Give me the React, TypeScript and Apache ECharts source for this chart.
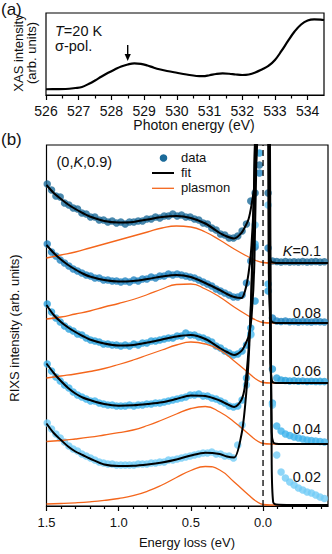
import React, { useEffect, useRef } from 'react';
import * as echarts from 'echarts';

// ---------- Panel (a): XAS ----------
const xasEnergy = [526.0, 526.3, 526.6, 526.9, 527.1, 527.3, 527.5, 527.7, 527.9, 528.1, 528.3, 528.5, 528.7, 528.9, 529.1, 529.3, 529.5, 529.7, 530.0, 530.3, 530.6, 530.8, 531.0, 531.2, 531.4, 531.6, 531.8, 532.0, 532.2, 532.4, 532.6, 532.8, 533.0, 533.2, 533.4, 533.6, 533.8, 534.0, 534.2, 534.4, 534.5];
const xasIntensity = [0.070, 0.071, 0.073, 0.085, 0.098, 0.134, 0.177, 0.226, 0.271, 0.311, 0.348, 0.372, 0.385, 0.380, 0.360, 0.333, 0.311, 0.293, 0.271, 0.250, 0.232, 0.229, 0.241, 0.256, 0.263, 0.259, 0.250, 0.244, 0.250, 0.274, 0.311, 0.354, 0.427, 0.537, 0.659, 0.774, 0.860, 0.909, 0.923, 0.920, 0.915];
const xasMajorTicks = [526, 527, 528, 529, 530, 531, 532, 533, 534];
const xasMinorTicks = [526.5, 527.5, 528.5, 529.5, 530.5, 531.5, 532.5, 533.5];

// ---------- Panel (b): RIXS ----------
const kLabels = ['0.1', '0.08', '0.06', '0.04', '0.02'];
const offsets = [243, 183, 123, 62, 1];
const dataColors = ['#1b6a99', '#1f82bf', '#29a0dc', '#3db3ec', '#72ccf6'];
const lossMajorTicks = [0, 0.5, 1.0, 1.5];
const lossMinorTicks = [-0.4, -0.3, -0.2, -0.1, 0.1, 0.2, 0.3, 0.4, 0.6, 0.7, 0.8, 0.9, 1.1, 1.2, 1.3, 1.4];

const dataEnergy = [1.495, 1.465, 1.435, 1.405, 1.375, 1.345, 1.315, 1.285, 1.255, 1.225,
  1.195, 1.165, 1.135, 1.105, 1.075, 1.045, 1.015, 0.985, 0.955, 0.925,
  0.895, 0.865, 0.835, 0.805, 0.775, 0.745, 0.715, 0.685, 0.655, 0.625,
  0.595, 0.565, 0.535, 0.505, 0.475, 0.445, 0.415, 0.385, 0.355, 0.325,
  0.295, 0.265, 0.235, 0.205, 0.175, 0.145, 0.115, 0.085, 0.055, 0.025,
  -0.005, -0.035, -0.065, -0.095, -0.125, -0.155, -0.185, -0.215, -0.245, -0.275,
  -0.305, -0.335, -0.365, -0.395, -0.425, -0.455];

const dataK010 = [79, 73, 67, 66, 60, 58, 55, 54, 50, 49,
  46, 46, 43, 43, 41, 42, 40, 41, 39, 41,
  41, 42, 42, 44, 44, 46, 45, 47, 47, 49,
  47, 48, 46, 46, 44, 43, 40, 39, 35, 33,
  29, 28, 25, 25, 27, 32, 39, 62, 70, 98,
  600, 70, 2, 1.5, 1, 1.5, 1, 1.3, 1, 1.4,
  1, 1.2, 1.5, 1, 1.3, 1];
const dataK008 = [79, 71, 67, 63, 60, 57, 54, 52, 50, 48,
  47, 45, 45, 43, 43, 42, 42, 41, 42, 41,
  43, 42, 44, 44, 46, 45, 47, 47, 49, 48,
  49, 48, 47, 46, 45, 43, 41, 39, 37, 34,
  32, 30, 28, 26, 26, 28, 40, 62, 76, 150,
  600, 75, 5, 2, 1.5, 2, 1.2, 1.5, 1, 1.4,
  1.2, 1, 1.5, 1.2, 1, 1.3];
const dataK006 = [79, 71, 65, 61, 57, 54, 52, 49, 48, 45,
  43, 42, 41, 39, 39, 38, 38, 37, 38, 37,
  39, 38, 40, 40, 42, 42, 43, 44, 45, 45,
  47, 47, 50, 48, 48, 46, 45, 43, 41, 37,
  35, 32, 30, 28, 29, 32, 38, 55, 82, 230,
  600, 92, 14, 5, 3, 2.5, 2, 2.2, 1.8, 2,
  1.5, 1.8, 1.5, 1.6, 1.4, 1.5];
const dataK004 = [80, 73, 67, 63, 59, 56, 52, 49, 47, 45,
  43, 43, 41, 40, 39, 39, 38, 38, 38, 39,
  38, 39, 39, 40, 40, 41, 41, 42, 43, 44,
  45, 46, 47, 49, 49, 50, 48, 48, 46, 45,
  43, 41, 38, 37, 38, 44, 66, 110, 200, 400,
  600, 160, 41, 18, 13, 10, 8.5, 7, 6, 5,
  4, 3.5, 3, 2.5, 2, 1.5];
const dataK002 = [82, 76, 71, 67, 63, 59, 56, 54, 51, 49,
  47, 45, 43, 42, 41, 41, 40, 40, 40, 40,
  40, 41, 41, 41, 42, 42, 43, 43, 45, 45,
  46, 47, 48, 49, 50, 51, 52, 52, 53, 51,
  51, 49, 49, 47, 60, 80, 120, 170, 280, 450,
  600, 300, 100, 50, 33, 27, 23, 20, 17, 15,
  13, 12, 10, 8, 6.5, 5];

const fitEnergy = [1.5, 1.45, 1.4, 1.35, 1.3, 1.25, 1.2, 1.1, 1.0, 0.9,
  0.8, 0.7, 0.6, 0.5, 0.4, 0.3, 0.25, 0.2, 0.15, 0.125,
  0.1, 0.08, 0.06, 0.04, 0.02, 0, -0.02, -0.03, -0.04, -0.05,
  -0.06, -0.07, -0.09, -0.2, -0.45];
const fitK010 = [78, 70, 64, 58.5, 54, 50, 46.5, 42, 40.5, 41,
  43.5, 46, 47, 45, 39.5, 30, 26.5, 24.5, 30, 36,
  44, 58, 78, 125, 500, 1200, 900, 500, 12, 3,
  1, 0.4, 0.1, 0, 0];
const fitK008 = [78, 70, 63.5, 58, 53.5, 49.5, 46.5, 43, 41.5, 42,
  44, 46.5, 48, 46, 40, 33, 29, 26, 25, 32,
  50, 78, 140, 350, 900, 1300, 1000, 600, 50, 5,
  1.5, 0.5, 0.1, 0, 0];
const fitK006 = [78, 68, 61, 55.5, 51, 47, 43.5, 39.5, 37.5, 38,
  40.5, 43.5, 46.5, 48, 44, 35, 31, 28, 32, 38,
  47, 65, 120, 300, 800, 1200, 1000, 700, 300, 20,
  3, 0.6, 0.1, 0, 0];
const fitK004 = [80.5, 71, 63, 56, 50.5, 46.5, 44, 40, 38.3, 38.7,
  40, 41.7, 45, 48.5, 48, 43.5, 40, 37, 44, 58,
  95, 150, 260, 500, 900, 1200, 1000, 800, 500, 150,
  12, 2, 0.3, 0, 0];
const fitK002 = [81.5, 72, 65, 58.5, 53.5, 50, 46.5, 40.5, 39, 39.2,
  40.5, 42.5, 45.5, 49.5, 52.3, 51, 48.5, 47.5, 70, 98,
  145, 220, 330, 500, 800, 1000, 900, 800, 600, 300,
  40, 3, 0.5, 0, 0];

const plasmonEnergy = [1.5, 1.4, 1.3, 1.2, 1.1, 1.0, 0.9, 0.8, 0.7, 0.6, 0.5, 0.4, 0.3, 0.2, 0.1, 0.05, 0, -0.05, -0.45];
const plasmonK010 = [5, 8, 11, 15, 19, 23, 27, 31, 35, 37, 36, 31, 23, 14, 6, 2.5, 0.5, 0, 0];
const plasmonK008 = [4, 6, 9, 12, 16, 19.5, 23.5, 28.5, 34, 38.5, 39, 34, 26, 16, 7, 3, 0.5, 0, 0];
const plasmonK006 = [5, 7, 9, 11.5, 14.5, 18.5, 23, 28, 33, 38, 41, 39, 33, 22, 10, 4, 0.5, 0, 0];
const plasmonK004 = [2.5, 3.5, 5, 6.8, 9, 11.3, 14, 18.5, 24, 30, 35.5, 37.5, 32, 22, 10, 4, 0.5, 0, 0];
const plasmonK002 = [1, 1.5, 2.2, 3.2, 4.6, 6.5, 9.3, 13.8, 20, 27.5, 34.5, 38.5, 35, 23, 10, 4, 0.5, 0, 0];

const dataSets = [dataK010, dataK008, dataK006, dataK004, dataK002];
const fitSets = [fitK010, fitK008, fitK006, fitK004, fitK002];
const plasmonSets = [plasmonK010, plasmonK008, plasmonK006, plasmonK004, plasmonK002];

const FONT = '"Liberation Sans", Arial, Helvetica, sans-serif';
const TXT = '#111';
const ORANGE = '#f4661c';
const Y_MAX_B = 361;

function buildOption(): any {
  const series: any[] = [];
  series.push({
    type: 'line', xAxisIndex: 0, yAxisIndex: 0, smooth: 0.4, symbol: 'none',
    lineStyle: { color: '#000', width: 2.2 },
    data: xasEnergy.map((e, i) => [e, xasIntensity[i]]),
  });
  plasmonSets.forEach((vals, s) => {
    series.push({
      type: 'line', xAxisIndex: 2, yAxisIndex: 1, smooth: 0.5, symbol: 'none',
      lineStyle: { color: ORANGE, width: 1.3 },
      data: plasmonEnergy.map((e, i) => [e, offsets[s] + vals[i]]),
    });
  });
  series.push({
    type: 'line', xAxisIndex: 2, yAxisIndex: 1, symbol: 'none',
    lineStyle: { color: '#000', width: 1.3, type: [6, 4] },
    data: [[0, 0], [0, Y_MAX_B]],
  });
  dataSets.forEach((vals, s) => {
    series.push({
      type: 'scatter', xAxisIndex: 2, yAxisIndex: 1, symbol: 'circle', symbolSize: 7.5,
      itemStyle: { color: dataColors[s] },
      data: dataEnergy.map((e, i) => [e, offsets[s] + vals[i]]),
    });
  });
  fitSets.forEach((vals, s) => {
    series.push({
      type: 'line', xAxisIndex: 2, yAxisIndex: 1, smooth: 0.3, symbol: 'none',
      lineStyle: { color: '#000', width: 2 },
      data: fitEnergy.map((e, i) => [e, offsets[s] + vals[i]]),
    });
  });

  const kYs = [251, 313, 371, 429, 477];
  const graphic: any[] = [
    { type: 'text', left: 1, top: 1, style: { text: '(a)', fontSize: 17, fontFamily: FONT, fill: TXT } },
    { type: 'text', left: 1, top: 131, style: { text: '(b)', fontSize: 17, fontFamily: FONT, fill: TXT } },
    { type: 'text', x: 55, y: 30.5, style: { text: '{i|T}=20 K', fontSize: 14.5, fontFamily: FONT, fill: TXT, verticalAlign: 'middle', rich: { i: { fontStyle: 'italic', fontSize: 14.5, fontFamily: FONT, fill: TXT } } } },
    { type: 'text', x: 55, y: 46, style: { text: 'σ-pol.', fontSize: 14.5, fontFamily: FONT, fill: TXT, verticalAlign: 'middle' } },
    { type: 'line', shape: { x1: 127.7, y1: 45, x2: 127.7, y2: 56 }, style: { stroke: '#000', lineWidth: 1.4 } },
    { type: 'polygon', shape: { points: [[124.6, 54], [130.8, 54], [127.7, 61]] }, style: { fill: '#000' } },
    { type: 'text', x: 194, y: 125, style: { text: 'Photon energy (eV)', fontSize: 14, fontFamily: FONT, fill: TXT, align: 'center', verticalAlign: 'middle' } },
    { type: 'text', x: 25, y: 53, rotation: Math.PI / 2, style: { text: 'XAS intensity\n(arb. units)', fontSize: 13, lineHeight: 13.5, fontFamily: FONT, fill: TXT, align: 'center', verticalAlign: 'middle' } },
    { type: 'text', x: 14, y: 328, rotation: Math.PI / 2, style: { text: 'RIXS intensity (arb. units)', fontSize: 13, fontFamily: FONT, fill: TXT, align: 'center', verticalAlign: 'middle' } },
    { type: 'text', x: 187, y: 542, style: { text: 'Energy loss (eV)', fontSize: 13, fontFamily: FONT, fill: TXT, align: 'center', verticalAlign: 'middle' } },
    { type: 'text', x: 56.5, y: 161.7, style: { text: '(0,{i|K},0.9)', fontSize: 14.5, fontFamily: FONT, fill: TXT, verticalAlign: 'middle', rich: { i: { fontStyle: 'italic', fontSize: 14.5, fontFamily: FONT, fill: TXT } } } },
    // legend
    { type: 'circle', shape: { cx: 163.5, cy: 158, r: 3.8 }, style: { fill: dataColors[0] } },
    { type: 'line', shape: { x1: 152, y1: 173, x2: 174, y2: 173 }, style: { stroke: '#000', lineWidth: 2 } },
    { type: 'line', shape: { x1: 152, y1: 188.3, x2: 174, y2: 188.3 }, style: { stroke: ORANGE, lineWidth: 1.3 } },
    { type: 'text', x: 181, y: 157.5, style: { text: 'data', fontSize: 13, fontFamily: FONT, fill: TXT, verticalAlign: 'middle' } },
    { type: 'text', x: 181, y: 172.5, style: { text: 'fit', fontSize: 13, fontFamily: FONT, fill: TXT, verticalAlign: 'middle' } },
    { type: 'text', x: 181, y: 187.5, style: { text: 'plasmon', fontSize: 13, fontFamily: FONT, fill: TXT, verticalAlign: 'middle' } },
  ];
  kLabels.forEach((k, i) => {
    graphic.push({
      type: 'text', x: 321, y: kYs[i],
      style: {
        text: i === 0 ? '{i|K}=' + k : k,
        fontSize: 14.5, fontFamily: FONT, fill: TXT, align: 'right', verticalAlign: 'middle',
        rich: { i: { fontStyle: 'italic', fontSize: 14.5, fontFamily: FONT, fill: TXT } },
      },
    });
  });

  const axisLineStyle = { color: '#000', width: 1.2 };
  return {
    animation: false,
    backgroundColor: '#fff',
    grid: [
      { left: 46, top: 13, width: 278, height: 82, show: true, borderColor: '#000', borderWidth: 1.2, backgroundColor: 'transparent' },
      { left: 46.5, top: 145, width: 281.5, height: 361, show: true, borderColor: '#000', borderWidth: 1.2, backgroundColor: 'transparent' },
    ],
    xAxis: [
      {
        gridIndex: 0, type: 'value', min: 526, max: 534.5, position: 'bottom',
        axisLine: { lineStyle: axisLineStyle },
        axisTick: { show: true, inside: false, length: 5, customValues: xasMajorTicks, lineStyle: axisLineStyle },
        axisLabel: { show: true, customValues: xasMajorTicks, fontSize: 14, fontFamily: FONT, color: TXT, margin: 8.5 },
        splitLine: { show: false },
      },
      {
        gridIndex: 0, type: 'value', min: 526, max: 534.5, position: 'bottom',
        axisLine: { show: false },
        axisTick: { show: true, inside: false, length: 3.5, customValues: xasMinorTicks, lineStyle: axisLineStyle },
        axisLabel: { show: false },
        splitLine: { show: false },
      },
      {
        gridIndex: 1, type: 'value', min: -0.45, max: 1.5, inverse: true, position: 'bottom',
        axisLine: { lineStyle: axisLineStyle },
        axisTick: { show: true, inside: false, length: 5, customValues: lossMajorTicks, lineStyle: axisLineStyle },
        axisLabel: { show: true, customValues: lossMajorTicks, fontSize: 13, fontFamily: FONT, color: TXT, margin: 10, formatter: (v: number) => v.toFixed(1) },
        splitLine: { show: false },
      },
      {
        gridIndex: 1, type: 'value', min: -0.45, max: 1.5, inverse: true, position: 'bottom',
        axisLine: { show: false },
        axisTick: { show: true, inside: false, length: 3, customValues: lossMinorTicks, lineStyle: axisLineStyle },
        axisLabel: { show: false },
        splitLine: { show: false },
      },
    ],
    yAxis: [
      { gridIndex: 0, type: 'value', min: 0, max: 1, show: false },
      { gridIndex: 1, type: 'value', min: 0, max: Y_MAX_B, show: false },
    ],
    series,
    graphic,
  };
}

export default function App() {
  const ref = useRef<HTMLDivElement>(null);
  useEffect(() => {
    if (!ref.current) return;
    const chart = echarts.init(ref.current, null, { renderer: 'svg' });
    chart.setOption(buildOption());
    return () => chart.dispose();
  }, []);
  return (
    <div
      ref={ref}
      style={{ position: 'fixed', left: 0, top: 0, width: 332, height: 554, background: '#fff' }}
    />
  );
}
